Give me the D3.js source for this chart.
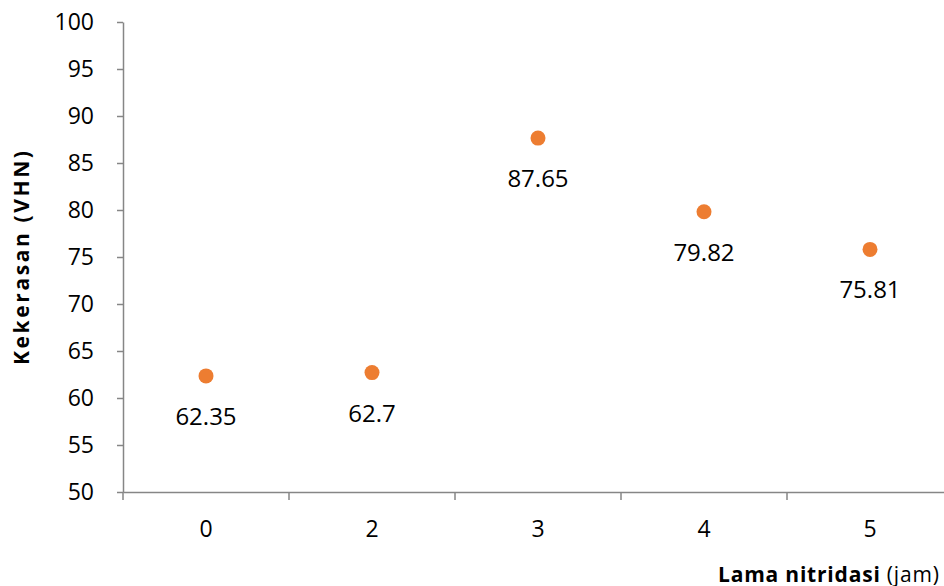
<!DOCTYPE html>
<html><head><meta charset="utf-8">
<script src="https://cdn.jsdelivr.net/npm/d3@7"></script>
<style>body{margin:0;background:#fff;overflow:hidden}svg{display:block}</style>
</head><body>
<svg id="c" width="944" height="586"></svg>
<script>
const categories = ["0", "2", "3", "4", "5"];
const hardness = [62.35, 62.7, 87.65, 79.82, 75.81];
const yTicks = [50, 55, 60, 65, 70, 75, 80, 85, 90, 95, 100];
const yTitle = "Kekerasan (VHN)";
const xTitleBold = "Lama nitridasi";
const xTitleRest = " (jam)";

const svg = d3.select("#c");
const font = "'Open Sans', 'Noto Sans', sans-serif";
const axisColor = "#868686";
const x = d3.scaleBand().domain(categories).range([123, 953]);
const y = d3.scaleLinear().domain([50, 100]).range([492, 22]);

// Y axis
const yAxis = svg.append("g").attr("transform", "translate(123,0)")
  .call(d3.axisLeft(y).tickValues(yTicks).tickSize(6).tickSizeOuter(0).tickPadding(10));
yAxis.select(".domain").attr("stroke", axisColor).attr("stroke-width", 1.5);
yAxis.selectAll(".tick line").attr("stroke", axisColor).attr("stroke-width", 1.5);
yAxis.selectAll(".tick text").attr("font-family", font).attr("font-size", 23).attr("fill", "#000").attr("x", -29);

// X axis
const xAxis = svg.append("g").attr("transform", "translate(0,492)")
  .call(d3.axisBottom(x).tickSize(0).tickSizeOuter(0).tickPadding(29));
xAxis.select(".domain").attr("stroke", axisColor).attr("stroke-width", 1.5);
xAxis.selectAll(".tick text").attr("font-family", font).attr("font-size", 23).attr("fill", "#000");
// band boundary ticks
const bounds = categories.map(c => x(c)).concat([x(categories[categories.length-1]) + x.bandwidth()]);
svg.append("g").selectAll("line").data(bounds).join("line")
  .attr("x1", d => d).attr("x2", d => d).attr("y1", 492).attr("y2", 500)
  .attr("stroke", axisColor).attr("stroke-width", 1.5);

// Points
const cx = c => x(c) + x.bandwidth() / 2;
svg.append("g").selectAll("circle").data(hardness).join("circle")
  .attr("cx", (d, i) => cx(categories[i])).attr("cy", d => y(d)).attr("r", 7.5)
  .attr("fill", "#ED7D31");
svg.append("g").selectAll("text").data(hardness).join("text")
  .attr("x", (d, i) => cx(categories[i])).attr("y", d => y(d) + 49)
  .attr("text-anchor", "middle").attr("font-family", font).attr("font-size", 24)
  .attr("fill", "#000").text(d => d);

// Titles
svg.append("text").attr("transform", "translate(29,258) rotate(-90)")
  .attr("text-anchor", "middle").attr("font-family", font).attr("font-size", 21)
  .attr("font-weight", "bold").attr("fill", "#000")
  .attr("textLength", 214).attr("lengthAdjust", "spacing").text(yTitle);
const xt = svg.append("text").attr("x", 718).attr("y", 582)
  .attr("font-family", font).attr("font-size", 21).attr("fill", "#000");
xt.append("tspan").attr("font-weight", "bold").attr("letter-spacing", 0.8).text(xTitleBold);
xt.append("tspan").attr("letter-spacing", 0.8).text(xTitleRest);
</script>
</body></html>
